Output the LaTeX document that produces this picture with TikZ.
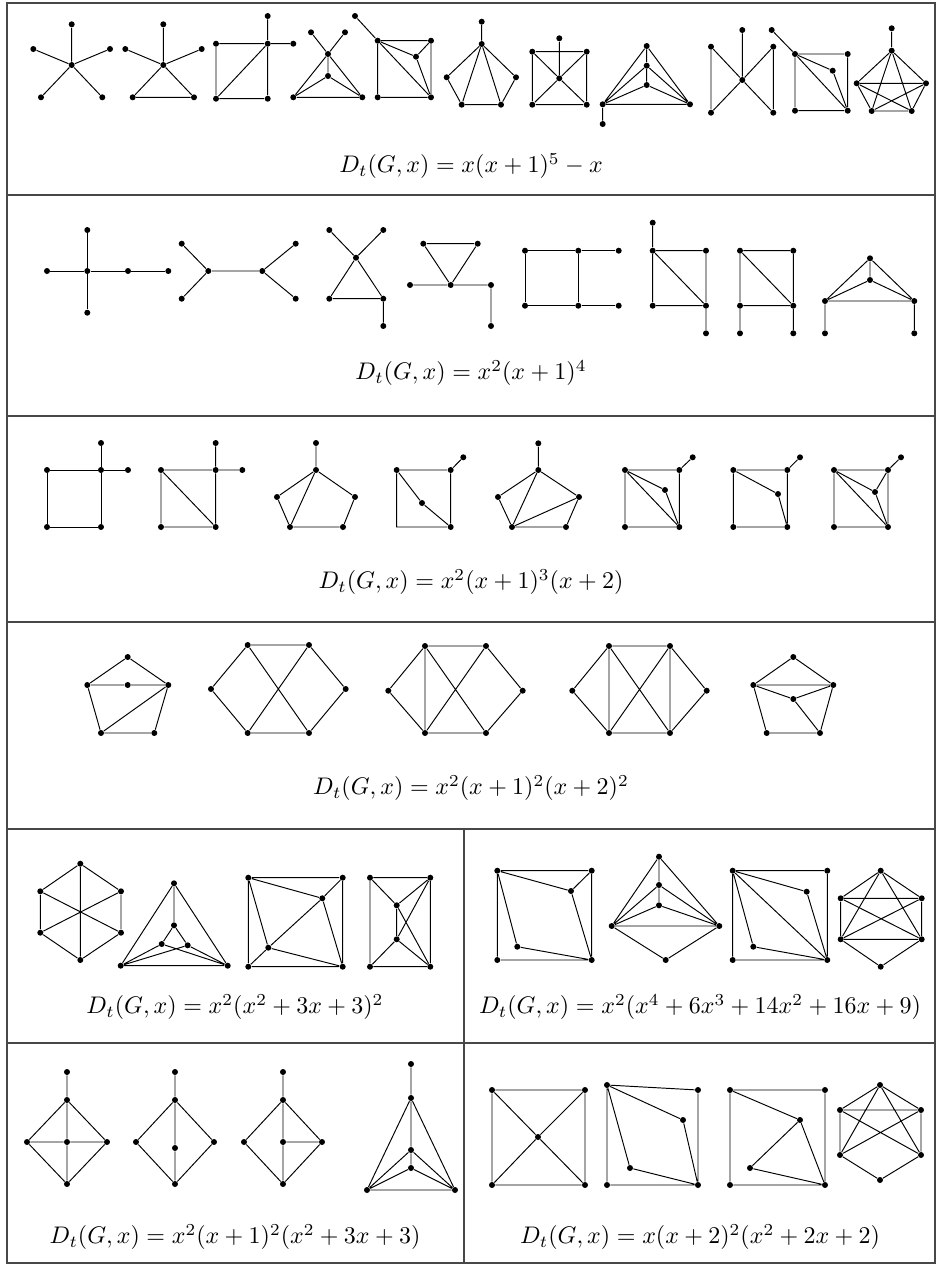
\documentclass[tikz,border=0pt]{standalone}
\usepackage{amsmath}
\usepackage{tikz}

\begin{document}
\begin{tikzpicture}[
    x=0.41667pt,y=-0.41667pt,
    vtx/.style={circle,fill=black,inner sep=0pt,minimum size=2.5pt},
    rule/.style={draw=black!72,line width=0.5pt},
    poly/.style={inner sep=0pt}
  ]
  \useasboundingbox (0,0) rectangle (938,1266);

  % table
  \draw[rule] (7,3) rectangle (935,1263);
  \draw[rule] (7,195) -- (935,195);
  \draw[rule] (7,416) -- (935,416);
  \draw[rule] (7,622) -- (935,622);
  \draw[rule] (7,829) -- (935,829);
  \draw[rule] (7,1043) -- (935,1043);
  \draw[rule] (464,829) -- (464,1263);

  % row 1
  \node[vtx] (a1c) at (71.7,65) {}; \node[vtx] (a1t) at (71.7,24.3) {};
  \node[vtx] (a1l) at (33.3,49) {}; \node[vtx] (a1r) at (110,49) {};
  \node[vtx] (a1p) at (41,97.3) {}; \node[vtx] (a1q) at (102.3,97.3) {};
  \draw (a1c) -- (a1t) (a1c) -- (a1l) (a1c) -- (a1r) (a1c) -- (a1p) (a1c) -- (a1q);

  \node[vtx] (a2c) at (163.3,65) {}; \node[vtx] (a2t) at (163.3,24.3) {};
  \node[vtx] (a2l) at (125.3,49) {}; \node[vtx] (a2r) at (201.7,49) {};
  \node[vtx] (a2p) at (132.7,97.3) {}; \node[vtx] (a2q) at (194,97.3) {};
  \draw (a2c) -- (a2t) (a2c) -- (a2l) (a2c) -- (a2r) (a2c) -- (a2p) (a2c) -- (a2q) (a2p) -- (a2q);

  \node[vtx] (a3a) at (216,43.7) {}; \node[vtx] (a3b) at (267.7,43.7) {};
  \node[vtx] (a3c) at (216,98.7) {}; \node[vtx] (a3d) at (267.7,98.7) {};
  \node[vtx] (a3e) at (267.7,16) {}; \node[vtx] (a3f) at (293.3,43.7) {};
  \draw (a3a) -- (a3b) -- (a3f) (a3b) -- (a3e) (a3a) -- (a3c) -- (a3d) -- (a3b) (a3c) -- (a3b);

  \node[vtx] (a4a) at (311,32.3) {}; \node[vtx] (a4b) at (345,32.3) {};
  \node[vtx] (a4u) at (328,54) {}; \node[vtx] (a4w) at (328,76) {};
  \node[vtx] (a4l) at (293.3,97.3) {}; \node[vtx] (a4r) at (362.3,97.3) {};
  \draw (a4a) -- (a4u) (a4b) -- (a4u) (a4u) -- (a4w) (a4u) -- (a4l) (a4u) -- (a4r)
    (a4w) -- (a4l) (a4w) -- (a4r) (a4l) -- (a4r);

  \node[vtx] (a5p) at (355,16) {}; \node[vtx] (a5a) at (377.7,40.7) {};
  \node[vtx] (a5b) at (431,40.7) {}; \node[vtx] (a5i) at (416,56.7) {};
  \node[vtx] (a5c) at (377.7,97.3) {}; \node[vtx] (a5d) at (431,97.3) {};
  \draw (a5p) -- (a5a) -- (a5b) -- (a5d) -- (a5c) -- (a5a) (a5a) -- (a5i) -- (a5b)
    (a5i) -- (a5d) (a5a) -- (a5d);

  \node[vtx] (a6p) at (481.7,21.7) {}; \node[vtx] (a6t) at (481.7,44) {};
  \node[vtx] (a6l) at (446.7,77.3) {}; \node[vtx] (a6r) at (516,77.3) {};
  \node[vtx] (a6c) at (461.7,104.7) {}; \node[vtx] (a6d) at (501,104.7) {};
  \draw (a6p) -- (a6t) (a6t) -- (a6l) -- (a6c) -- (a6d) -- (a6r) -- (a6t)
    (a6t) -- (a6c) (a6t) -- (a6d);

  \node[vtx] (a7p) at (559.3,38.3) {}; \node[vtx] (a7a) at (532.3,51.7) {};
  \node[vtx] (a7b) at (586.7,51.7) {}; \node[vtx] (a7m) at (559.3,78.3) {};
  \node[vtx] (a7c) at (532.3,104.7) {}; \node[vtx] (a7d) at (586.7,104.7) {};
  \draw (a7a) -- (a7b) -- (a7d) -- (a7c) -- (a7a) (a7p) -- (a7m)
    (a7m) -- (a7a) (a7m) -- (a7b) (a7m) -- (a7c) (a7m) -- (a7d);

  \node[vtx] (a8t) at (646.7,46) {}; \node[vtx] (a8m) at (646.7,65.7) {};
  \node[vtx] (a8i) at (646.7,85) {}; \node[vtx] (a8l) at (602.7,104.3) {};
  \node[vtx] (a8r) at (690,104.3) {}; \node[vtx] (a8p) at (602.7,124) {};
  \draw (a8t) -- (a8m) -- (a8i) (a8t) -- (a8l) (a8t) -- (a8r) (a8m) -- (a8l) (a8m) -- (a8r)
    (a8i) -- (a8l) (a8i) -- (a8r) (a8l) -- (a8r) (a8l) -- (a8p);

  \node[vtx] (a9p) at (742.3,30) {}; \node[vtx] (a9a) at (711,46.7) {};
  \node[vtx] (a9b) at (773.3,46.7) {}; \node[vtx] (a9m) at (742.3,80) {};
  \node[vtx] (a9c) at (711,112.7) {}; \node[vtx] (a9d) at (773.3,112.7) {};
  \draw (a9p) -- (a9m) (a9a) -- (a9m) (a9b) -- (a9m) (a9c) -- (a9m) (a9d) -- (a9m)
    (a9a) -- (a9c) (a9b) -- (a9d);

  \node[vtx] (a10p) at (771.7,30) {}; \node[vtx] (a10a) at (795,54) {};
  \node[vtx] (a10b) at (847.7,54) {}; \node[vtx] (a10i) at (832.7,70.7) {};
  \node[vtx] (a10c) at (795,110.7) {}; \node[vtx] (a10d) at (847.7,110.7) {};
  \draw (a10p) -- (a10a) -- (a10b) -- (a10d) -- (a10c) -- (a10a)
    (a10a) -- (a10i) -- (a10d) (a10a) -- (a10d);

  \node[vtx] (a11p) at (891.7,28.3) {}; \node[vtx] (a11t) at (891.7,50.7) {};
  \node[vtx] (a11l) at (856.7,83.3) {}; \node[vtx] (a11r) at (926,83.3) {};
  \node[vtx] (a11c) at (871.7,111) {}; \node[vtx] (a11d) at (911.7,111) {};
  \draw (a11p) -- (a11t) (a11t) -- (a11l) (a11t) -- (a11r) (a11t) -- (a11c) (a11t) -- (a11d)
    (a11l) -- (a11r) (a11l) -- (a11c) (a11l) -- (a11d) (a11r) -- (a11c) (a11r) -- (a11d)
    (a11c) -- (a11d);

  \node[poly] (fa) at (471,166) {$D_t(G,x)=x(x+1)^5-x$};

  % row 2
  \node[vtx] (b1c) at (87.3,271) {}; \node[vtx] (b1t) at (87.3,230) {};
  \node[vtx] (b1d) at (87.3,312.7) {}; \node[vtx] (b1l) at (47,271) {};
  \node[vtx] (b1r) at (128,271) {}; \node[vtx] (b1s) at (168.3,271) {};
  \draw (b1l) -- (b1c) -- (b1r) -- (b1s) (b1t) -- (b1c) -- (b1d);

  \node[vtx] (b2u) at (208.3,271) {}; \node[vtx] (b2v) at (262.3,271) {};
  \node[vtx] (b2a) at (181.7,243.7) {}; \node[vtx] (b2b) at (181.7,298.7) {};
  \node[vtx] (b2e) at (295.7,243.7) {}; \node[vtx] (b2f) at (295.7,298.7) {};
  \draw (b2u) -- (b2v) (b2u) -- (b2a) (b2u) -- (b2b) (b2v) -- (b2e) (b2v) -- (b2f);

  \node[vtx] (b3a) at (329.3,230) {}; \node[vtx] (b3b) at (383.3,230) {};
  \node[vtx] (b3m) at (356,257.7) {}; \node[vtx] (b3c) at (329.3,298.7) {};
  \node[vtx] (b3d) at (383.3,298.7) {}; \node[vtx] (b3p) at (383.3,326) {};
  \draw (b3a) -- (b3m) (b3b) -- (b3m) (b3m) -- (b3c) -- (b3d) -- (b3m) (b3d) -- (b3p);

  \node[vtx] (b4a) at (423.3,243.7) {}; \node[vtx] (b4b) at (477.7,243.7) {};
  \node[vtx] (b4l) at (410,285) {}; \node[vtx] (b4m) at (450.7,285) {};
  \node[vtx] (b4r) at (491,285) {}; \node[vtx] (b4p) at (491,326) {};
  \draw (b4a) -- (b4b) -- (b4m) -- (b4a) (b4l) -- (b4m) -- (b4r) -- (b4p);

  \node[vtx] (b5a) at (525,250.7) {}; \node[vtx] (b5b) at (578.3,250.7) {};
  \node[vtx] (b5c) at (618.7,250.7) {}; \node[vtx] (b5d) at (525,305.7) {};
  \node[vtx] (b5e) at (578.3,305.7) {}; \node[vtx] (b5f) at (618.7,305.7) {};
  \draw (b5a) -- (b5b) -- (b5c) (b5d) -- (b5e) -- (b5f) (b5a) -- (b5d) (b5b) -- (b5e);

  \node[vtx] (b6p) at (652.7,222.7) {}; \node[vtx] (b6a) at (652.7,250.7) {};
  \node[vtx] (b6b) at (706,250.7) {}; \node[vtx] (b6c) at (652.7,305.7) {};
  \node[vtx] (b6d) at (706,305.7) {}; \node[vtx] (b6q) at (706,333.3) {};
  \draw (b6p) -- (b6a) -- (b6b) -- (b6d) -- (b6c) -- (b6a) (b6a) -- (b6d) -- (b6q);

  \node[vtx] (b7a) at (740,250.7) {}; \node[vtx] (b7b) at (793.3,250.7) {};
  \node[vtx] (b7c) at (740,305.7) {}; \node[vtx] (b7d) at (793.3,305.7) {};
  \node[vtx] (b7p) at (740,333.3) {}; \node[vtx] (b7q) at (793.3,333.3) {};
  \draw (b7a) -- (b7b) -- (b7d) -- (b7c) -- (b7a) (b7a) -- (b7d) (b7c) -- (b7p) (b7d) -- (b7q);

  \node[vtx] (b8t) at (870,258.3) {}; \node[vtx] (b8i) at (870,280) {};
  \node[vtx] (b8l) at (825,301) {}; \node[vtx] (b8r) at (914.3,301) {};
  \node[vtx] (b8p) at (825,333.3) {}; \node[vtx] (b8q) at (914.3,333.3) {};
  \draw (b8t) -- (b8i) (b8t) -- (b8l) (b8t) -- (b8r) (b8i) -- (b8l) (b8i) -- (b8r)
    (b8l) -- (b8r) (b8l) -- (b8p) (b8r) -- (b8q);

  \node[poly] (fb) at (471,373) {$D_t(G,x)=x^2(x+1)^4$};

  % row 3
  \node[vtx] (c1a) at (47,470) {}; \node[vtx] (c1b) at (101,470) {};
  \node[vtx] (c1c) at (47,527) {}; \node[vtx] (c1d) at (101,527) {};
  \node[vtx] (c1p) at (101,443) {}; \node[vtx] (c1q) at (128,470) {};
  \draw (c1a) -- (c1b) -- (c1d) -- (c1c) -- (c1a) (c1b) -- (c1p) (c1b) -- (c1q);

  \node[vtx] (c2a) at (161,470) {}; \node[vtx] (c2b) at (215.7,470) {};
  \node[vtx] (c2c) at (161,527) {}; \node[vtx] (c2d) at (215.7,527) {};
  \node[vtx] (c2p) at (215.7,443) {}; \node[vtx] (c2q) at (242.3,470) {};
  \draw (c2a) -- (c2b) -- (c2d) -- (c2c) -- (c2a) (c2a) -- (c2d) (c2b) -- (c2p) (c2b) -- (c2q);

  \node[vtx] (c3t) at (316,470) {}; \node[vtx] (c3p) at (316,443) {};
  \node[vtx] (c3l) at (277,497) {}; \node[vtx] (c3r) at (355,497) {};
  \node[vtx] (c3c) at (290,527) {}; \node[vtx] (c3d) at (343,527) {};
  \draw (c3p) -- (c3t) (c3t) -- (c3l) -- (c3c) -- (c3d) -- (c3r) -- (c3t) (c3t) -- (c3c);

  \node[vtx] (c4a) at (396.7,470) {}; \node[vtx] (c4b) at (450.7,470) {};
  \node[vtx] (c4p) at (463.3,457.3) {}; \node[vtx] (c4i) at (422,503) {};
  \node[vtx] (c4d) at (450.7,527) {}; \coordinate (c4c) at (396.7,527);
  \draw (c4a) -- (c4b) -- (c4d) -- (c4c) -- (c4a) (c4b) -- (c4p) (c4a) -- (c4i) -- (c4d);

  \node[vtx] (c5t) at (538.3,470) {}; \node[vtx] (c5p) at (538.3,443.3) {};
  \node[vtx] (c5l) at (498,497) {}; \node[vtx] (c5r) at (579,497) {};
  \node[vtx] (c5c) at (512,527) {}; \node[vtx] (c5d) at (566,527) {};
  \draw (c5p) -- (c5t) (c5t) -- (c5l) -- (c5c) -- (c5d) -- (c5r) -- (c5t) (c5t) -- (c5c) (c5c) -- (c5r);

  \node[vtx] (c6a) at (625,470) {}; \node[vtx] (c6b) at (679.3,470) {};
  \node[vtx] (c6p) at (692.7,457.3) {}; \node[vtx] (c6i) at (665,490) {};
  \node[vtx] (c6c) at (625,527) {}; \node[vtx] (c6d) at (679.3,527) {};
  \draw (c6a) -- (c6b) -- (c6d) -- (c6c) -- (c6a) (c6b) -- (c6p) (c6a) -- (c6d)
    (c6a) -- (c6i) -- (c6d);

  \node[vtx] (c7a) at (733.3,470) {}; \node[vtx] (c7b) at (787.3,470) {};
  \node[vtx] (c7p) at (800,457.3) {}; \node[vtx] (c7i) at (778,494) {};
  \node[vtx] (c7c) at (733.3,527) {}; \node[vtx] (c7d) at (787.3,527) {};
  \draw (c7a) -- (c7b) -- (c7d) -- (c7c) -- (c7a) (c7b) -- (c7p) (c7a) -- (c7i) -- (c7d);

  \node[vtx] (c8a) at (834,470) {}; \node[vtx] (c8b) at (888,470) {};
  \node[vtx] (c8p) at (901,457.3) {}; \node[vtx] (c8i) at (875,492) {};
  \node[vtx] (c8c) at (834,527) {}; \node[vtx] (c8d) at (888,527) {};
  \draw (c8a) -- (c8b) -- (c8d) -- (c8c) -- (c8a) (c8b) -- (c8p) (c8a) -- (c8d)
    (c8a) -- (c8i) -- (c8d) (c8i) -- (c8b);

  \node[poly] (fc) at (471,582) {$D_t(G,x)=x^2(x+1)^3(x+2)$};

  % row 4
  \node[vtx] (d1t) at (127.7,657) {}; \node[vtx] (d1l) at (87.3,685) {};
  \node[vtx] (d1m) at (127.7,685) {}; \node[vtx] (d1r) at (168.3,685) {};
  \node[vtx] (d1c) at (101,733) {}; \node[vtx] (d1d) at (154.3,733) {};
  \draw (d1t) -- (d1l) -- (d1m) -- (d1r) -- (d1t) (d1l) -- (d1c) -- (d1d) -- (d1r) (d1c) -- (d1r);

  \node[vtx] (d2a) at (247.7,645) {}; \node[vtx] (d2b) at (309,645) {};
  \node[vtx] (d2l) at (211,689) {}; \node[vtx] (d2r) at (345.7,689) {};
  \node[vtx] (d2c) at (247.7,733) {}; \node[vtx] (d2d) at (309,733) {};
  \draw (d2a) -- (d2b) -- (d2r) -- (d2d) -- (d2c) -- (d2l) -- (d2a) (d2a) -- (d2d) (d2b) -- (d2c);

  \node[vtx] (d3a) at (425,646) {}; \node[vtx] (d3b) at (486,646) {};
  \node[vtx] (d3l) at (388.3,690.7) {}; \node[vtx] (d3r) at (522.7,690.7) {};
  \node[vtx] (d3c) at (425,733) {}; \node[vtx] (d3d) at (486,733) {};
  \draw (d3a) -- (d3b) -- (d3r) -- (d3d) -- (d3c) -- (d3l) -- (d3a) (d3a) -- (d3d) (d3b) -- (d3c)
    (d3a) -- (d3c);

  \node[vtx] (d4a) at (609,646) {}; \node[vtx] (d4b) at (670,646) {};
  \node[vtx] (d4l) at (572.3,690.7) {}; \node[vtx] (d4r) at (706.7,690.7) {};
  \node[vtx] (d4c) at (609,733) {}; \node[vtx] (d4d) at (670,733) {};
  \draw (d4a) -- (d4b) -- (d4r) -- (d4d) -- (d4c) -- (d4l) -- (d4a) (d4a) -- (d4d) (d4b) -- (d4c)
    (d4a) -- (d4c) (d4b) -- (d4d);

  \node[vtx] (d5t) at (793.3,657) {}; \node[vtx] (d5l) at (753.3,685) {};
  \node[vtx] (d5r) at (833.3,685) {}; \node[vtx] (d5m) at (793.3,699) {};
  \node[vtx] (d5c) at (766.7,733) {}; \node[vtx] (d5d) at (820,733) {};
  \draw (d5t) -- (d5l) -- (d5r) -- (d5t) (d5l) -- (d5m) -- (d5r) (d5m) -- (d5d)
    (d5l) -- (d5c) -- (d5d) -- (d5r);

  \node[poly] (fd) at (471,788) {$D_t(G,x)=x^2(x+1)^2(x+2)^2$};

  % row 5, left
  \node[vtx] (e1t) at (80.3,863.7) {}; \node[vtx] (e1a) at (40.3,891.3) {};
  \node[vtx] (e1b) at (121,891.3) {}; \node[vtx] (e1c) at (40.3,932.7) {};
  \node[vtx] (e1d) at (121,932.7) {}; \node[vtx] (e1u) at (80.3,960) {};
  \draw (e1t) -- (e1a) -- (e1c) -- (e1u) -- (e1d) -- (e1b) -- (e1t)
    (e1t) -- (e1u) (e1a) -- (e1d) (e1b) -- (e1c);

  \node[vtx] (e2t) at (174,883.3) {}; \node[vtx] (e2m) at (174,925.3) {};
  \node[vtx] (e2i) at (161.7,944) {}; \node[vtx] (e2j) at (187.7,945.3) {};
  \node[vtx] (e2l) at (120.7,965.7) {}; \node[vtx] (e2r) at (227.7,965.7) {};
  \draw (e2t) -- (e2l) -- (e2r) -- (e2t) -- (e2m) (e2m) -- (e2i) (e2m) -- (e2j)
    (e2i) -- (e2l) (e2i) -- (e2r) (e2j) -- (e2l) (e2j) -- (e2r);

  \node[vtx] (e3a) at (248.3,877.7) {}; \node[vtx] (e3b) at (342.7,877.7) {};
  \node[vtx] (e3c) at (248.3,966.7) {}; \node[vtx] (e3d) at (342.7,966.7) {};
  \node[vtx] (e3i) at (322.3,898.3) {}; \node[vtx] (e3j) at (268.3,947.7) {};
  \draw (e3a) -- (e3b) -- (e3d) -- (e3c) -- (e3a) (e3a) -- (e3i) -- (e3b) (e3a) -- (e3j) -- (e3i)
    (e3j) -- (e3d) (e3i) -- (e3d) (e3c) -- (e3j);

  \node[vtx] (e4a) at (370,877.7) {}; \node[vtx] (e4b) at (430.3,877.7) {};
  \node[vtx] (e4c) at (370,966.7) {}; \node[vtx] (e4d) at (430.3,966.7) {};
  \node[vtx] (e4i) at (396.7,905.3) {}; \node[vtx] (e4j) at (396.7,939.3) {};
  \draw (e4a) -- (e4b) -- (e4d) -- (e4c) -- (e4a) (e4a) -- (e4i) -- (e4b) (e4i) -- (e4j)
    (e4i) -- (e4d) (e4j) -- (e4b) (e4j) -- (e4c) (e4j) -- (e4d);

  \node[poly] (fe) at (235,1007) {$D_t(G,x)=x^2(x^2+3x+3)^2$};

  % row 5, right
  \node[vtx] (e5a) at (497.3,870.7) {}; \node[vtx] (e5b) at (591.7,870.7) {};
  \node[vtx] (e5c) at (497.3,960) {}; \node[vtx] (e5d) at (591.7,960) {};
  \node[vtx] (e5i) at (571,891) {}; \node[vtx] (e5j) at (517.3,946.7) {};
  \draw (e5a) -- (e5b) -- (e5d) -- (e5c) -- (e5a) (e5a) -- (e5i) -- (e5b) (e5a) -- (e5j) -- (e5d)
    (e5i) -- (e5d);

  \node[vtx] (e6t) at (659,856.7) {}; \node[vtx] (e6m) at (659,885) {};
  \node[vtx] (e6i) at (659,905.3) {}; \node[vtx] (e6l) at (611.7,926) {};
  \node[vtx] (e6r) at (719.3,926) {}; \node[vtx] (e6u) at (665.7,960) {};
  \draw (e6t) -- (e6m) -- (e6i) (e6t) -- (e6l) (e6t) -- (e6r) (e6m) -- (e6l) (e6m) -- (e6r)
    (e6i) -- (e6l) (e6i) -- (e6r) (e6l) -- (e6r) (e6l) -- (e6u) -- (e6r);

  \node[vtx] (e7a) at (732.7,870.7) {}; \node[vtx] (e7b) at (827.3,870.7) {};
  \node[vtx] (e7c) at (732.7,960) {}; \node[vtx] (e7d) at (827.3,960) {};
  \node[vtx] (e7i) at (806.7,891.7) {}; \node[vtx] (e7j) at (753.3,946.7) {};
  \draw (e7a) -- (e7b) -- (e7d) -- (e7c) -- (e7a) (e7a) -- (e7i) -- (e7d) (e7a) -- (e7j) -- (e7d)
    (e7a) -- (e7d);

  \node[vtx] (e8t) at (880.7,870.7) {}; \node[vtx] (e8a) at (840.7,898.3) {};
  \node[vtx] (e8b) at (921.7,898.3) {}; \node[vtx] (e8c) at (840.7,939.3) {};
  \node[vtx] (e8d) at (921.7,939.3) {}; \node[vtx] (e8u) at (880.7,966.7) {};
  \draw (e8t) -- (e8a) (e8t) -- (e8b) (e8t) -- (e8c) (e8t) -- (e8d) (e8a) -- (e8b) (e8a) -- (e8c)
    (e8a) -- (e8d) (e8b) -- (e8c) (e8b) -- (e8d) (e8c) -- (e8d) (e8c) -- (e8u) -- (e8d);

  \node[poly] (fe2) at (700,1007) {$D_t(G,x)=x^2(x^4+6x^3+14x^2+16x+9)$};

  % row 6, left
  \node[vtx] (f1p) at (67,1072) {}; \node[vtx] (f1t) at (67,1100) {};
  \node[vtx] (f1l) at (27,1142) {}; \node[vtx] (f1m) at (67,1142) {};
  \node[vtx] (f1r) at (107,1142) {}; \node[vtx] (f1u) at (67,1184) {};
  \draw (f1p) -- (f1t) -- (f1l) -- (f1u) -- (f1r) -- (f1t) (f1t) -- (f1m) -- (f1u)
    (f1l) -- (f1m) -- (f1r);

  \node[vtx] (f2p) at (175,1072) {}; \node[vtx] (f2t) at (175,1100) {};
  \node[vtx] (f2l) at (136,1142) {}; \node[vtx] (f2m) at (175,1148) {};
  \node[vtx] (f2r) at (214,1142) {}; \node[vtx] (f2u) at (175,1184) {};
  \draw (f2p) -- (f2t) -- (f2l) -- (f2u) -- (f2r) -- (f2t) (f2t) -- (f2m) -- (f2u);

  \node[vtx] (f3p) at (283,1072) {}; \node[vtx] (f3t) at (283,1100) {};
  \node[vtx] (f3l) at (244,1142) {}; \node[vtx] (f3m) at (283,1142) {};
  \node[vtx] (f3r) at (322,1142) {}; \node[vtx] (f3u) at (283,1184) {};
  \draw (f3p) -- (f3t) -- (f3l) -- (f3u) -- (f3r) -- (f3t) (f3t) -- (f3m) -- (f3u) (f3m) -- (f3r);

  \node[vtx] (f4p) at (411,1064) {}; \node[vtx] (f4a) at (411,1098) {};
  \node[vtx] (f4m) at (411,1150) {}; \node[vtx] (f4i) at (411,1168) {};
  \node[vtx] (f4l) at (367,1190) {}; \node[vtx] (f4r) at (455,1190) {};
  \draw (f4p) -- (f4a) -- (f4m) -- (f4i) (f4a) -- (f4l) -- (f4r) -- (f4a) (f4m) -- (f4l)
    (f4m) -- (f4r) (f4i) -- (f4l) (f4i) -- (f4r);

  \node[poly] (ff) at (235,1237) {$D_t(G,x)=x^2(x+1)^2(x^2+3x+3)$};

  % row 6, right
  \node[vtx] (f5a) at (492,1090) {}; \node[vtx] (f5b) at (585,1090) {};
  \node[vtx] (f5c) at (492,1185) {}; \node[vtx] (f5d) at (585,1185) {};
  \node[vtx] (f5m) at (538,1137) {};
  \draw (f5a) -- (f5b) -- (f5d) -- (f5c) -- (f5a) (f5a) -- (f5m) -- (f5d) (f5b) -- (f5m) -- (f5c);

  \node[vtx] (f6a) at (607,1085) {}; \node[vtx] (f6b) at (698,1090) {};
  \node[vtx] (f6c) at (607,1185) {}; \node[vtx] (f6d) at (698,1185) {};
  \node[vtx] (f6i) at (683,1120) {}; \node[vtx] (f6j) at (630,1168) {};
  \draw (f6a) -- (f6b) -- (f6d) -- (f6c) -- (f6a) (f6a) -- (f6i) -- (f6d) (f6a) -- (f6j) -- (f6d);

  \node[vtx] (f7a) at (730,1090) {}; \node[vtx] (f7b) at (825,1090) {};
  \node[vtx] (f7c) at (730,1185) {}; \node[vtx] (f7d) at (825,1185) {};
  \node[vtx] (f7i) at (800,1120) {}; \node[vtx] (f7j) at (750,1168) {};
  \draw (f7a) -- (f7b) -- (f7d) -- (f7c) -- (f7a) (f7a) -- (f7i) -- (f7d) (f7i) -- (f7j) -- (f7d);

  \node[vtx] (f8t) at (880,1085) {}; \node[vtx] (f8a) at (840,1110) {};
  \node[vtx] (f8b) at (921,1110) {}; \node[vtx] (f8c) at (840,1155) {};
  \node[vtx] (f8d) at (921,1155) {}; \node[vtx] (f8u) at (880,1180) {};
  \draw (f8t) -- (f8a) -- (f8c) -- (f8u) -- (f8d) -- (f8b) -- (f8t) (f8t) -- (f8c) (f8t) -- (f8d)
    (f8a) -- (f8d) (f8b) -- (f8c) (f8a) -- (f8b);

  \node[poly] (ff2) at (700,1237) {$D_t(G,x)=x(x+2)^2(x^2+2x+2)$};
\end{tikzpicture}
\end{document}
